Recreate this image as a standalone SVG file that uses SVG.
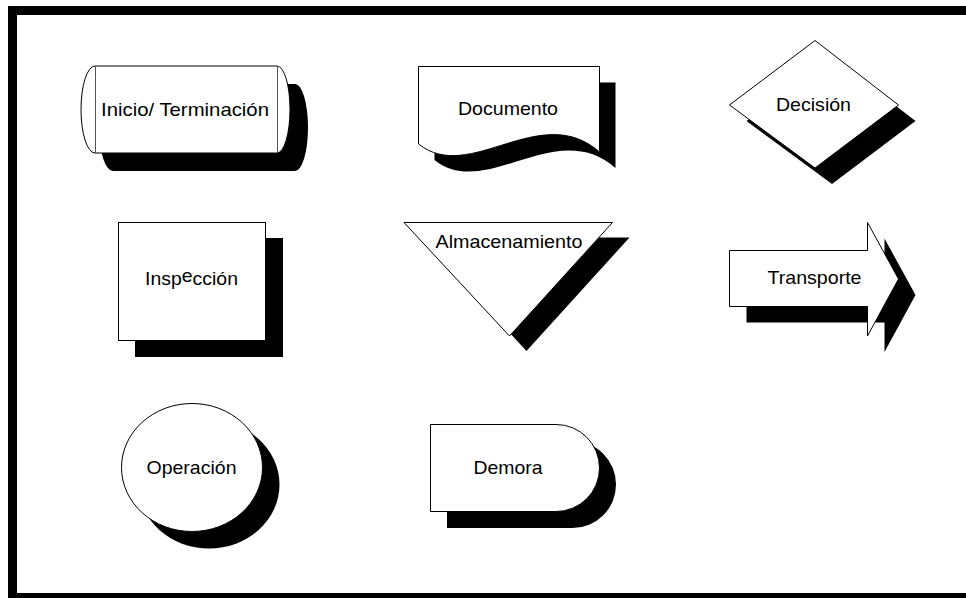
<svg xmlns="http://www.w3.org/2000/svg" width="966" height="598" viewBox="0 0 966 598">
  <style>
    .shadow { fill: #000; stroke: none; }
    .shape { fill: #fff; stroke: #000; stroke-width: 1; }
    .rule { stroke: #555; stroke-width: 1; fill: none; }
    .label { font-family: "Liberation Sans", Arial, sans-serif; font-size: 19px; fill: #000; text-anchor: middle; }
  </style>
  <rect width="966" height="598" fill="#fff"/>
  <!-- page frame -->
  <rect x="12.5" y="10.5" width="1000" height="587" fill="none" stroke="#000" stroke-width="9"/>

  <g id="inicio-terminacion">
    <path class="shadow" transform="translate(18,18)" d="M95,66 H277 A13,43.5 0 0 1 277,153 H95 A14,43.5 0 0 1 95,66 Z"/>
    <path class="shape" d="M95,66 H277 A13,43.5 0 0 1 277,153 H95 A14,43.5 0 0 1 95,66 Z"/>
    <line class="rule" x1="95.5" y1="66" x2="95.5" y2="153"/>
    <line class="rule" x1="277.5" y1="66" x2="277.5" y2="153"/>
    <text class="label" x="185" y="115.5" textLength="168" lengthAdjust="spacingAndGlyphs">Inicio/ Terminación</text>
  </g>

  <g id="documento">
    <path class="shadow" transform="translate(16,16)" d="M418.5,66.5 H599.5 V152 C540,100 470,185 418.5,144 Z"/>
    <path class="shape" d="M418.5,66.5 H599.5 V152 C540,100 470,185 418.5,144 Z"/>
    <text class="label" x="508" y="115" textLength="100" lengthAdjust="spacingAndGlyphs">Documento</text>
  </g>

  <g id="decision">
    <path class="shadow" transform="translate(17,16)" d="M815,40.5 L898.5,105 L815,168 L729.5,105 Z"/>
    <path class="shape" d="M815,40.5 L898.5,105 L815,168 L729.5,105 Z"/>
    <text class="label" x="813.5" y="110.5" textLength="75" lengthAdjust="spacingAndGlyphs">Decisión</text>
  </g>

  <g id="inspeccion">
    <rect class="shadow" x="135" y="238" width="148" height="119"/>
    <rect class="shape" x="118.5" y="222.5" width="147" height="118"/>
    <text class="label" x="191.5" y="285" textLength="93" lengthAdjust="spacingAndGlyphs">Insp<tspan dy="-3">e</tspan><tspan dy="3">cción</tspan></text>
  </g>

  <g id="almacenamiento">
    <path class="shadow" transform="translate(17,15)" d="M404,222.5 L612.5,222.5 L509.5,336 Z"/>
    <path class="shape" d="M404,222.5 L612.5,222.5 L509.5,336 Z"/>
    <text class="label" x="509" y="248" textLength="147" lengthAdjust="spacingAndGlyphs">Almacenamiento</text>
  </g>

  <g id="transporte">
    <path class="shadow" transform="translate(17,16)" d="M729.5,250.5 H867.5 V222.5 L898.5,279 L867.5,336 V306.5 H729.5 Z"/>
    <path class="shape" d="M729.5,250.5 H867.5 V222.5 L898.5,279 L867.5,336 V306.5 H729.5 Z"/>
    <text class="label" x="814.5" y="284" textLength="94" lengthAdjust="spacingAndGlyphs">Transporte</text>
  </g>

  <g id="operacion">
    <ellipse class="shadow" cx="209" cy="484.5" rx="70.5" ry="64"/>
    <ellipse class="shape" cx="192" cy="467.5" rx="70.5" ry="64"/>
    <text class="label" x="191.5" y="473.5" textLength="90" lengthAdjust="spacingAndGlyphs">Operación</text>
  </g>

  <g id="demora">
    <path class="shadow" transform="translate(16.5,16.5)" d="M430.5,424.5 H556 A43.5,43.5 0 0 1 556,511.5 H430.5 Z"/>
    <path class="shape" d="M430.5,424.5 H556 A43.5,43.5 0 0 1 556,511.5 H430.5 Z"/>
    <text class="label" x="508" y="474" textLength="69" lengthAdjust="spacingAndGlyphs">Demora</text>
  </g>

  <g id="connectors"/>
</svg>
